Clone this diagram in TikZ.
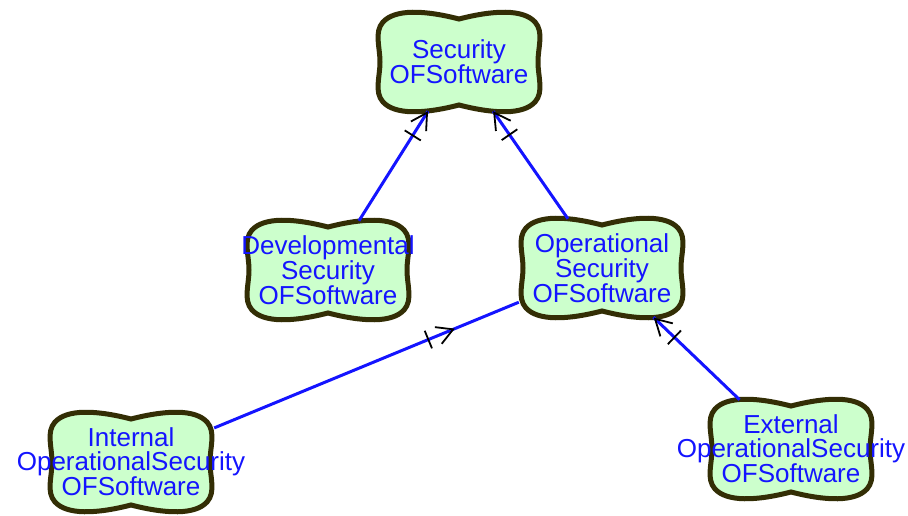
\documentclass[tikz,border=0pt]{standalone}
\usepackage{fontspec}
\setmainfont{Liberation Sans}
\usetikzlibrary{arrows.meta,backgrounds,decorations.markings}

\definecolor{blobfill}{RGB}{204,255,204}
\definecolor{blobedge}{RGB}{51,46,5}
\definecolor{linkblue}{RGB}{20,20,255}

\begin{document}
\begin{tikzpicture}[
  x=1pt, y=-1pt,
  concept/.style={inner sep=0pt, minimum width=166pt, minimum height=98pt,
    label={[conceptText]center:#1}},
  conceptText/.style={inner sep=0pt, align=center, text=linkblue, font=\fontsize{26}{24}\selectfont},
  blob/.style={draw=blobedge, fill=blobfill, line width=5pt},
  link/.style={draw=linkblue, line width=3pt},
  linkhead/.style={postaction={decorate, decoration={markings,
    mark=at position #1 with {\arrow{Bar[width=19pt,line width=1.8pt,color=black,sep=9pt] Straight Barb[length=16pt,width=18pt,line width=1.8pt,color=black]}}}}}
]
\useasboundingbox (0,0) rectangle (908,516);
% concepts
\node[concept={Security\\OFSoftware}] (sec) at (459,62) {};
\node[concept={Developmental\\Security\\OFSoftware}] (dev) at (328,270) {};
\node[concept={Operational\\Security\\OFSoftware}] (opr) at (602,268) {};
\node[concept={Internal\\OperationalSecurity\\OFSoftware}] (int) at (131,462) {};
\node[concept={External\\OperationalSecurity\\OFSoftware}] (ext) at (791,449) {};
% wavy outlines
\begin{scope}[on background layer]
\foreach \n in {sec,dev,opr,int,ext}
  \draw[blob, shift={(\n)}] (0,-43)
    .. controls (35,-52) and (64,-53) .. (76,-40)
    .. controls (85,-30) and (79,-15) .. (79,0)
    .. controls (79,15) and (85,30) .. (76,40)
    .. controls (64,53) and (35,52) .. (0,43)
    .. controls (-35,52) and (-64,53) .. (-76,40)
    .. controls (-85,30) and (-79,15) .. (-79,0)
    .. controls (-79,-15) and (-85,-30) .. (-76,-40)
    .. controls (-64,-53) and (-35,-52) .. (0,-43) -- cycle;
\end{scope}
% links
\draw[link, linkhead=1] (dev) -- (sec);
\draw[link, linkhead=1] (opr) -- (sec);
\draw[link, linkhead=0.79] (int) -- (opr);
\draw[link, linkhead=1] (ext) -- (opr);
\end{tikzpicture}
\end{document}
